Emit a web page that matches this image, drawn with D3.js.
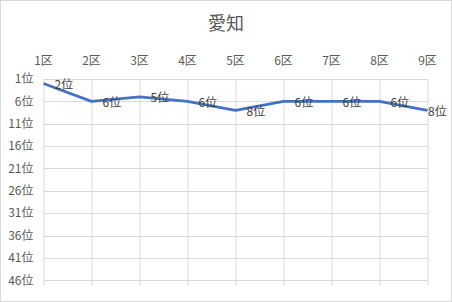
<!DOCTYPE html>
<html>
<head>
<meta charset="utf-8">
<script src="https://cdn.jsdelivr.net/npm/d3@7"></script>
<style>
  body { margin: 0; background: #fff; }
  text { font-family: "Noto Sans CJK JP", "Noto Sans", sans-serif; }
</style>
</head>
<body>
<script>
// chart data
const districts = ["1区", "2区", "3区", "4区", "5区", "6区", "7区", "8区", "9区"];
const ranks = [2, 6, 5, 6, 8, 6, 6, 6, 8];
const rankTicks = [1, 6, 11, 16, 21, 26, 31, 36, 41, 46];
const title = "愛知";

const W = 452, H = 302;
const margin = {top: 79, right: 24.5, bottom: 21.7, left: 43.5};
const width = W - margin.left - margin.right,
      height = H - margin.top - margin.bottom;

const svg = d3.select("body").append("svg")
    .attr("width", W)
    .attr("height", H);

// chart border
svg.append("rect")
    .attr("x", 0.5).attr("y", 0.5)
    .attr("width", W - 1).attr("height", H - 1)
    .style("fill", "#fff")
    .style("stroke", "#d9d9d9");

// title
svg.append("text")
    .attr("x", W / 2)
    .attr("y", 30)
    .attr("text-anchor", "middle")
    .style("font-size", "18px")
    .style("fill", "#595959")
    .text(title);

const g = svg.append("g")
    .attr("transform", "translate(" + margin.left + "," + margin.top + ")");

// scales
let x = d3.scalePoint().domain(districts).range([0, width]);
let y = d3.scaleLinear().domain([1, 46]).range([0, height]);

// horizontal grid
g.append("g")
    .selectAll("line")
    .data(rankTicks)
    .enter().append("line")
    .attr("x1", 0).attr("x2", width)
    .attr("y1", d => Math.round(y(d)) + 0.5)
    .attr("y2", d => Math.round(y(d)) + 0.5)
    .style("stroke", "#d9d9d9");

// vertical grid + tick marks below
g.append("g")
    .selectAll("line")
    .data(districts)
    .enter().append("line")
    .attr("x1", d => Math.round(x(d)) + 0.5)
    .attr("x2", d => Math.round(x(d)) + 0.5)
    .attr("y1", 0)
    .attr("y2", height + 5)
    .style("stroke", "#d9d9d9");

// category labels at top
g.append("g")
    .selectAll("text")
    .data(districts)
    .enter().append("text")
    .attr("x", d => x(d))
    .attr("y", -14)
    .attr("text-anchor", "middle")
    .style("font-size", "12px")
    .style("fill", "#595959")
    .text(d => d);

// rank labels at left
g.append("g")
    .selectAll("text")
    .data(rankTicks)
    .enter().append("text")
    .attr("x", -10)
    .attr("y", d => y(d))
    .attr("dy", "0.35em")
    .attr("text-anchor", "end")
    .style("font-size", "12px")
    .style("fill", "#595959")
    .text(d => d + "位");

// the line
let valueline = d3.line()
    .x((d, i) => x(districts[i]))
    .y(d => y(d));

g.append("path")
    .attr("d", valueline(ranks))
    .style("fill", "none")
    .style("stroke", "#4472c4")
    .style("stroke-width", "2.75")
    .style("stroke-linejoin", "round");

// data labels, right of each point
g.append("g")
    .selectAll("text")
    .data(ranks)
    .enter().append("text")
    .attr("x", (d, i) => Math.min(x(districts[i]) + 11, W - margin.left - 24))
    .attr("y", d => y(d) + 1)
    .attr("dy", "0.35em")
    .style("font-size", "12px")
    .style("fill", "#404040")
    .text(d => d + "位");
</script>
</body>
</html>
